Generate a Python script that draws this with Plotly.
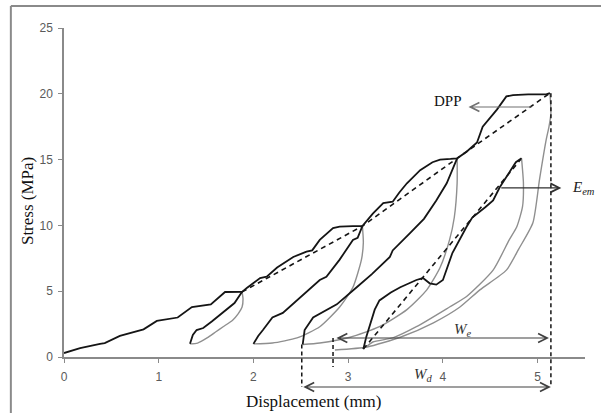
import plotly.graph_objects as go

# ---------------- data (displacement mm, stress MPa) ----------------
env_x = [0, 0.17, 0.38, 0.43, 0.59, 0.80, 0.84, 0.98, 1.17, 1.20, 1.35, 1.51, 1.55, 1.70, 1.80, 1.88,
         1.93, 2.07, 2.14, 2.25, 2.42, 2.56, 2.62, 2.70, 2.84, 2.91, 3.05, 3.15,
         3.26, 3.37, 3.47, 3.54, 3.62, 3.76, 3.89, 3.97, 4.08, 4.15,
         4.25, 4.36, 4.42, 4.57, 4.67, 4.74, 4.90, 5.09, 5.13]
env_y = [0.3, 0.68, 1.0, 1.06, 1.6, 2.05, 2.1, 2.74, 3.0, 3.0, 3.8, 3.95, 4.0, 4.94, 4.96, 4.95,
         5.25, 6.0, 6.1, 6.8, 7.6, 8.0, 8.1, 8.9, 9.8, 9.9, 9.95, 9.95,
         10.9, 11.7, 11.8, 12.5, 13.2, 14.2, 14.8, 15.0, 15.05, 15.1,
         15.6, 16.3, 17.5, 18.8, 19.8, 19.9, 19.95, 19.95, 20.05]

reload1_x = [1.33, 1.36, 1.40, 1.47, 1.56, 1.65, 1.72, 1.80, 1.88]
reload1_y = [1.0, 1.67, 2.05, 2.2, 2.7, 3.2, 3.6, 4.1, 4.95]
unload1_x = [1.88, 1.89, 1.88, 1.84, 1.78, 1.68, 1.60, 1.51, 1.41, 1.33]
unload1_y = [4.95, 4.4, 3.8, 3.3, 2.8, 2.3, 1.9, 1.45, 1.06, 1.0]

reload2_x = [2.00, 2.05, 2.10, 2.20, 2.31, 2.46, 2.60, 2.70, 2.77, 2.91, 3.05, 3.10, 3.15]
reload2_y = [1.0, 1.6, 2.05, 3.0, 3.35, 4.3, 5.2, 5.85, 6.1, 7.4, 8.9, 9.05, 9.95]
unload2_x = [3.15, 3.16, 3.14, 3.05, 2.91, 2.70, 2.46, 2.20, 2.00]
unload2_y = [9.95, 8.7, 7.4, 5.3, 3.8, 2.3, 1.45, 1.06, 1.0]

reload3_x = [2.52, 2.53, 2.54, 2.63, 2.75, 2.88, 3.09, 3.25, 3.44, 3.47, 3.65, 3.80, 3.93, 4.04, 4.15]
reload3_y = [0.95, 1.6, 2.05, 3.0, 3.5, 4.0, 5.3, 6.3, 7.6, 8.1, 9.4, 10.5, 11.9, 13.2, 15.1]
unload3_x = [4.15, 4.15, 4.12, 4.07, 3.97, 3.83, 3.62, 3.33, 3.02, 2.70, 2.52]
unload3_y = [15.1, 13.2, 10.6, 8.9, 6.8, 5.1, 3.6, 2.3, 1.5, 1.06, 0.95]

reload4_x = [3.16, 3.19, 3.28, 3.33, 3.45, 3.55, 3.72, 3.79, 3.86, 3.93, 4.00, 4.10, 4.25, 4.31,
             4.45, 4.53, 4.60, 4.70, 4.77, 4.83]
reload4_y = [0.6, 1.5, 3.6, 4.3, 4.9, 5.3, 5.85, 6.0, 5.6, 5.5, 5.85, 7.9, 9.9, 10.6,
             11.4, 11.9, 12.9, 14.0, 14.8, 15.1]
unload4_x = [4.83, 4.85, 4.84, 4.78, 4.70, 4.53, 4.25, 4.07, 3.72, 3.47, 3.26, 3.18]
unload4_y = [15.1, 13.2, 11.4, 9.9, 8.9, 6.6, 4.6, 3.8, 2.3, 1.45, 1.14, 0.7]

final_x = [5.13, 5.14, 5.12, 5.09, 5.02, 4.95, 4.80, 4.67, 4.39, 4.18, 3.90, 3.55, 3.20, 2.86]
final_y = [20.05, 18.5, 17.5, 16.5, 13.5, 10.2, 8.2, 6.6, 5.1, 3.8, 2.6, 1.5, 0.76, 0.53]

secant_env_x = [1.88, 3.15, 4.15, 5.13]
secant_env_y = [4.95, 9.95, 15.1, 20.05]
secant4_x = [3.16, 4.82]
secant4_y = [0.6, 15.0]

x_ticks = [0, 1, 2, 3, 4, 5]
y_ticks = [0, 5, 10, 15, 20, 25]

# annotation levels (data units)
We_level, We_from, We_to = 1.44, 2.86, 5.12
Wd_level, Wd_from, Wd_to = -2.28, 2.51, 5.14
Eem_level, Eem_from, Eem_to = 12.85, 4.60, 5.25
DPP_level, DPP_from, DPP_to = 19.0, 4.95, 4.27
Y_MAX = 25

BLACK = "#151515"
GRAY = "#8f8f8f"

fig = go.Figure()

def line(x, y, color, width, dash=None, shape="linear"):
    fig.add_trace(go.Scatter(x=x, y=y, mode="lines", showlegend=False, hoverinfo="skip",
                             line=dict(color=color, width=width, dash=dash, shape=shape,
                                       smoothing=0.6 if shape == "spline" else None)))

for gx, gy in [(unload1_x, unload1_y), (unload2_x, unload2_y), (unload3_x, unload3_y),
               (unload4_x, unload4_y), (final_x, final_y)]:
    line(gx, gy, GRAY, 1.4, shape="spline")
line(secant_env_x, secant_env_y, BLACK, 1.6, "5px,4px")
line(secant4_x, secant4_y, BLACK, 1.6, "5px,4px")
for bx, by in [(env_x, env_y), (reload1_x, reload1_y), (reload2_x, reload2_y),
               (reload3_x, reload3_y), (reload4_x, reload4_y)]:
    line(bx, by, BLACK, 1.8)

def p(v):  # data stress -> paper y
    return v / Y_MAX

shapes = [
    dict(type="line", xref="x", yref="paper", x0=Wd_to, x1=Wd_to, y0=p(secant_env_y[-1]), y1=p(Wd_level),
         line=dict(color=BLACK, width=1.5, dash="4px,3px")),
    dict(type="line", xref="x", yref="paper", x0=Wd_from, x1=Wd_from, y0=p(unload3_y[-1]), y1=p(Wd_level),
         line=dict(color=BLACK, width=1.5, dash="4px,3px")),
    dict(type="line", xref="x", yref="paper", x0=We_from - 0.02, x1=We_from - 0.02, y0=p(We_level), y1=p(-0.76),
         line=dict(color=BLACK, width=1.5, dash="4px,3px")),
    # outer frame
    dict(type="line", xref="paper", yref="paper", x0=-0.102, x1=1.1, y0=1.067, y1=1.067,
         line=dict(color="#8a8a8a", width=2)),
    dict(type="line", xref="paper", yref="paper", x0=-0.102, x1=-0.102, y0=1.067, y1=-0.2,
         line=dict(color="#8a8a8a", width=2)),
]

serif = "Liberation Serif, Times New Roman, serif"
ann = [
    dict(x=We_to, y=We_level, ax=We_from, ay=We_level, xref="x", yref="y", axref="x", ayref="y",
         text="", showarrow=True, arrowside="end+start", arrowhead=5, startarrowhead=5,
         arrowsize=1.6, startarrowsize=1.6, arrowwidth=1.1, arrowcolor="#404040"),
    dict(x=Wd_to, y=p(Wd_level), ax=Wd_from, ay=0, xref="x", yref="paper", axref="x", ayref="pixel",
         text="", showarrow=True, arrowside="end+start", arrowhead=5, startarrowhead=5,
         arrowsize=1.6, startarrowsize=1.6, arrowwidth=1.1, arrowcolor="#404040"),
    dict(x=Eem_to, y=Eem_level, ax=Eem_from, ay=Eem_level, xref="x", yref="y", axref="x", ayref="y",
         text="", showarrow=True, arrowhead=5, arrowsize=1.6, arrowwidth=1.1, arrowcolor="#303030"),
    dict(x=DPP_to, y=DPP_level, ax=DPP_from, ay=DPP_level, xref="x", yref="y", axref="x", ayref="y",
         text="", showarrow=True, arrowhead=5, arrowsize=1.6, arrowwidth=1.1, arrowcolor="#707070"),
    dict(x=4.21, y=2.05, xref="x", yref="y", text="<i>W<sub>e</sub></i>", showarrow=False,
         xanchor="center", yanchor="middle", font=dict(family=serif, size=15, color="#333")),
    dict(x=3.80, y=p(-1.35), xref="x", yref="paper", text="<i>W<sub>d</sub></i>", showarrow=False,
         xanchor="center", yanchor="middle", font=dict(family=serif, size=15, color="#333")),
    dict(x=5.34, y=Eem_level, xref="x", yref="y", xanchor="left", yanchor="middle",
         text="<i>E<sub>em</sub></i>", showarrow=False, font=dict(family=serif, size=15, color="#222")),
    dict(x=4.05, y=19.45, xref="x", yref="y", text="DPP", showarrow=False,
         xanchor="center", yanchor="middle", font=dict(family=serif, size=15, color="#111")),
    dict(x=0.48, y=-0.134, xref="paper", yref="paper", text="Displacement (mm)", showarrow=False,
         xanchor="center", yanchor="middle", font=dict(family=serif, size=17, color="#111")),
    dict(x=-0.071, y=0.474, xref="paper", yref="paper", text="Stress (MPa)", showarrow=False,
         xanchor="center", yanchor="middle", textangle=-90,
         font=dict(family=serif, size=17, color="#111")),
]

axis_common = dict(showgrid=False, zeroline=False, showline=True, linecolor="#8a8a8a", linewidth=1.5,
                   ticks="outside", ticklen=4, tickcolor="#8a8a8a", tickwidth=1,
                   tickfont=dict(family="Liberation Sans, Arial, sans-serif", size=12, color="#5a5a5a"))

fig.update_layout(
    width=601, height=413,
    margin=dict(l=64, r=16, t=28, b=56),
    paper_bgcolor="white", plot_bgcolor="white",
    xaxis=dict(range=[0, 5.5], tickvals=x_ticks, ticktext=[str(v) for v in x_ticks],
               ticklabelstandoff=4, **axis_common),
    yaxis=dict(range=[0, Y_MAX], tickvals=y_ticks, ticktext=[str(v) for v in y_ticks],
               ticklabelstandoff=3, **axis_common),
    shapes=shapes, annotations=ann,
)

fig.write_html("out.html", config={"displayModeBar": False},
               post_script="document.body.style.margin='0';document.body.style.overflow='hidden';")
